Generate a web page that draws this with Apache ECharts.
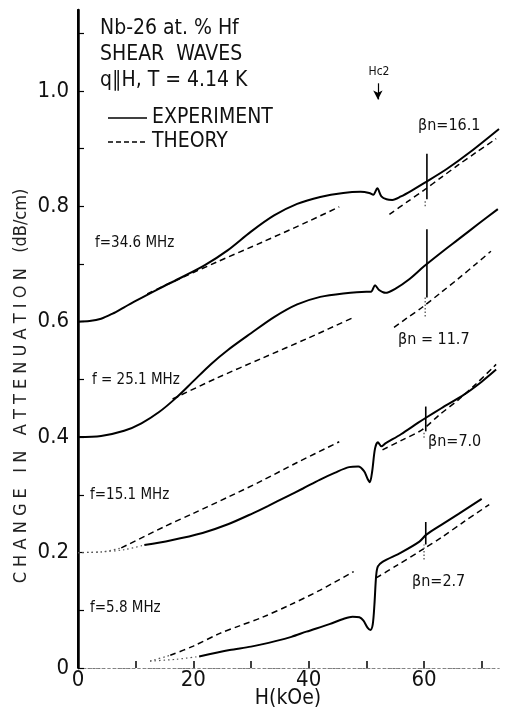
<!DOCTYPE html>
<html><head><meta charset="utf-8">
<script src="https://cdn.jsdelivr.net/npm/echarts@6/dist/echarts.min.js"></script>
<style>html,body{margin:0;padding:0;background:#fff}#c{width:505px;height:717px}</style>
</head><body><div id="c"></div>
<script>
// ---- data (H in kOe, change in attenuation in dB/cm) ----
const exp34 = [[0,0.600],[2,0.601],[4,0.605],[6,0.614],[8,0.625],[10,0.636],[14,0.657],[18,0.677],[22,0.698],[26,0.724],[30,0.756],[34,0.784],[38,0.804],[42,0.816],[46,0.823],[49,0.825],[50.5,0.823],[51.2,0.820],[51.9,0.831],[52.6,0.817],[53.5,0.812],[54.5,0.811],[56,0.817],[58,0.828],[60,0.840],[64,0.865],[68,0.894],[73,0.934]];
const th34a = [[12,0.648],[16,0.667],[24,0.703],[32,0.738],[40,0.774],[45.3,0.799]];
const th34b = [[54,0.786],[57,0.807],[60,0.828],[63,0.850],[66,0.872],[69,0.893],[72.5,0.917]];

const exp25 = [[0,0.400],[4,0.402],[8,0.411],[11,0.424],[14,0.443],[17,0.468],[20,0.497],[23,0.526],[26,0.551],[30,0.580],[34,0.608],[38,0.630],[42,0.643],[46,0.649],[50,0.652],[50.8,0.652],[51.5,0.663],[52.2,0.655],[53.3,0.650],[55,0.657],[57.5,0.674],[60,0.696],[63,0.720],[66,0.743],[69.5,0.770],[72.8,0.795]];
const th25a = [[16.4,0.466],[24,0.502],[32,0.537],[40,0.572],[47.9,0.608]];
const th25b = [[54.8,0.590],[57,0.606],[59.7,0.625],[63,0.651],[66,0.675],[69,0.700],[71.6,0.722]];

const exp15dot = [[0,0.200],[4,0.201],[8,0.205],[11.5,0.213]];
const exp15 = [[11.5,0.213],[16,0.221],[21.6,0.234],[26,0.249],[30.3,0.268],[33,0.281],[36.2,0.297],[39,0.311],[41.9,0.326],[44.5,0.338],[47,0.348],[48.6,0.349],[49.6,0.341],[50.2,0.328],[50.6,0.322],[51.0,0.340],[51.5,0.380],[52,0.391],[52.6,0.384],[53.3,0.389],[56,0.405],[59,0.425],[60.4,0.434],[63,0.450],[67,0.474],[70,0.496],[72.5,0.517]];
const th15dot = [[0,0.200],[4,0.201],[7.5,0.208]];
const th15a = [[7.5,0.208],[15,0.245],[20,0.268],[26,0.296],[32,0.325],[38,0.356],[45.3,0.392]];
const th15b = [[52.8,0.378],[56,0.394],[59.7,0.413],[62.6,0.438],[66,0.465],[69,0.492],[72.5,0.526]];

const exp5dot = [[12.5,0.012],[17,0.015],[21,0.020]];
const exp5 = [[21,0.020],[26.3,0.031],[30,0.037],[34.4,0.047],[37,0.054],[39.6,0.063],[43.6,0.076],[46,0.085],[47.6,0.089],[48.8,0.088],[49.5,0.082],[50.2,0.070],[50.7,0.066],[51.1,0.075],[51.4,0.110],[51.7,0.160],[52.0,0.176],[52.8,0.184],[56,0.200],[59.2,0.219],[60.4,0.231],[63,0.248],[66,0.267],[70,0.293]];
const th5dot = [[12.5,0.012],[16,0.022]];
const th5a = [[16,0.022],[20,0.038],[24.6,0.060],[28,0.073],[32,0.088],[36.7,0.109],[42,0.135],[47.8,0.167]];
const th5b = [[51.7,0.156],[55,0.176],[59.7,0.205],[63,0.226],[67,0.254],[71.3,0.283]];

// error bars near H = 60 kOe: [H, low, high] and their faint dotted extensions
const errH = [60.5, 60.5, 60.3, 60.3];
const errLo = [0.812, 0.642, 0.410, 0.214];
const errHi = [0.891, 0.760, 0.453, 0.253];
const errDotLo = [0.800, 0.609, 0.399, 0.188];

const hc2H = 52;
const hc2Arrow = [1.013, 0.985];

const xTicks = [0, 20, 40, 60];
const yTicks = [0, 0.2, 0.4, 0.6, 0.8, 1.0];

// ---- chart ----
const FONT = '"Liberation Sans Narrow","DejaVu Sans Condensed","Liberation Sans",sans-serif';
const chart = echarts.init(document.getElementById('c'), null, {renderer: 'canvas'});

function solid(data, extra) {
  return Object.assign({type: 'line', data: data, showSymbol: false, symbol: 'none', smooth: 0.3,
    lineStyle: {color: '#000', width: 2, type: 'solid'}, silent: true, z: 3}, extra || {});
}
function dashed(data) {
  return {type: 'line', data: data, showSymbol: false, symbol: 'none', smooth: 0.3,
    lineStyle: {color: '#000', width: 1.5, type: [6, 4]}, silent: true, z: 2};
}
function dotted(data) {
  return {type: 'line', data: data, showSymbol: false, symbol: 'none', smooth: 0.3,
    lineStyle: {color: '#555', width: 1.2, type: [1.5, 3]}, silent: true, z: 2};
}
function bars(data, style) {
  return {type: 'custom', data: data, encode: {x: 0, y: [1, 2]}, silent: true, z: 4,
    renderItem: function (params, api) {
      const p1 = api.coord([api.value(0), api.value(1)]);
      const p2 = api.coord([api.value(0), api.value(2)]);
      return {type: 'line', shape: {x1: p1[0], y1: p1[1], x2: p2[0], y2: p2[1]}, style: style};
    }};
}

const errData = errH.map((h, i) => [h, errLo[i], errHi[i]]);
const errDotData = errH.map((h, i) => [h - 0.3, errDotLo[i], errLo[i]]);

const series = [
  solid(exp34, {markLine: {silent: true, symbol: ['none', 'arrow'], symbolSize: [7, 9],
    lineStyle: {color: '#000', width: 1.2, type: 'solid'}, label: {show: false},
    data: [[{coord: [hc2H, hc2Arrow[0]]}, {coord: [hc2H, hc2Arrow[1]]}]]}}),
  dashed(th34a), dashed(th34b),
  solid(exp25), dashed(th25a), dashed(th25b),
  dotted(exp15dot), solid(exp15), dotted(th15dot), dashed(th15a), dashed(th15b),
  dotted(exp5dot), solid(exp5), dotted(th5dot), dashed(th5a), dashed(th5b),
  bars(errData, {stroke: '#000', lineWidth: 1.6}),
  bars(errDotData, {stroke: '#444', lineWidth: 1.2, lineDash: [1.5, 2]})
];

const txt = (x, y, text, size, align) => ({
  type: 'text', x: x, y: y, silent: true,
  style: {text: text, fill: '#111', font: size + 'px ' + FONT, textVerticalAlign: 'middle', textAlign: align || 'left'}
});

chart.setOption({
  animation: false,
  backgroundColor: '#fff',
  grid: {left: 78, right: 6, top: 10, bottom: 49},
  xAxis: [{
    type: 'value', min: 0, max: 73, interval: 10,
    axisLine: {show: true, lineStyle: {color: '#777', width: 1, type: [2, 3]}},
    axisTick: {show: true, inside: true, length: 7, lineStyle: {color: '#000', width: 1.5}},
    splitLine: {show: false},
    axisLabel: {fontFamily: FONT, fontSize: 22, color: '#111', margin: 1, showMaxLabel: false,
      formatter: v => xTicks.indexOf(Math.round(v)) >= 0 && Math.abs(v - Math.round(v)) < 1e-6 ? String(Math.round(v)) : ''}
  }, {
    type: 'value', position: 'top', min: 0, max: 73,
    axisLine: {show: true, lineStyle: {color: '#888', width: 1, type: [2, 4]}},
    axisTick: {show: false}, axisLabel: {show: false}, splitLine: {show: false}
  }],
  yAxis: [{
    type: 'value', min: 0, max: 1.14, interval: 0.1,
    axisLine: {show: true, lineStyle: {color: '#000', width: 2}},
    axisTick: {show: true, inside: true, length: 6, lineStyle: {color: '#000', width: 1.2}},
    splitLine: {show: false},
    axisLabel: {fontFamily: FONT, fontSize: 22, color: '#111', margin: 9, showMaxLabel: false,
      formatter: v => {
        const k = Math.round(v * 10);
        if (Math.abs(v * 10 - k) > 1e-6 || k % 2 !== 0) return '';
        return k === 0 ? '0' : (k / 10).toFixed(1);
      }}
  }, {
    type: 'value', position: 'right', min: 0, max: 1.14,
    axisLine: {show: true, lineStyle: {color: '#000', width: 2.5}},
    axisTick: {show: false}, axisLabel: {show: false}, splitLine: {show: false}
  }],
  series: series,
  graphic: [
    txt(100, 29, 'Nb-26 at. % Hf', 21),
    txt(100, 55, 'SHEAR  WAVES', 21),
    txt(100, 81, 'q\u2225H, T = 4.14 K', 21),
    {type: 'line', silent: true, shape: {x1: 108, y1: 118, x2: 147, y2: 118}, style: {stroke: '#000', lineWidth: 1.3}},
    txt(152, 118, 'EXPERIMENT', 21),
    {type: 'line', silent: true, shape: {x1: 108, y1: 142, x2: 147, y2: 142}, style: {stroke: '#000', lineWidth: 1.3, lineDash: [5, 3]}},
    txt(152, 142, 'THEORY', 21),
    txt(379, 72, 'Hc2', 12, 'center'),
    txt(418, 126, '\u03B2n=16.1', 16),
    txt(398, 340, '\u03B2n = 11.7', 16),
    txt(428, 442, '\u03B2n=7.0', 16),
    txt(412, 582, '\u03B2n=2.7', 16),
    txt(95, 243, 'f=34.6 MHz', 15),
    txt(92, 380, 'f = 25.1 MHz', 15),
    txt(90, 495, 'f=15.1 MHz', 15),
    txt(90, 608, 'f=5.8 MHz', 15),
    txt(288, 699, 'H(kOe)', 21, 'center'),
    {type: 'text', silent: true, x: 21, y: 386, rotation: Math.PI / 2,
      style: {text: 'C H A N G E   I N   A T T E N U A T I O N   (dB/cm)', fill: '#222',
        font: '18px ' + FONT, textAlign: 'center', textVerticalAlign: 'middle'}}
  ]
});
</script>
</body></html>
